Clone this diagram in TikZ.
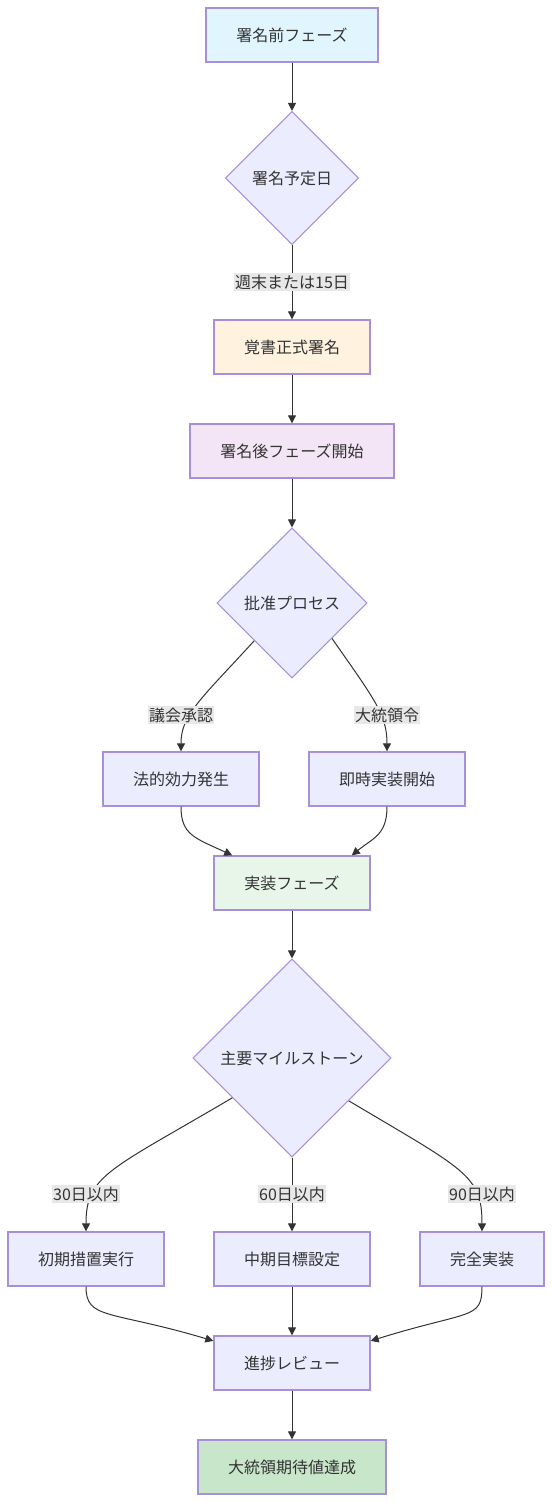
\documentclass[tikz,border=0pt]{standalone}
\usepackage{fontspec}
\setmainfont{Noto Sans CJK JP}
\usetikzlibrary{shapes.geometric,arrows.meta,calc}
\definecolor{nstroke}{HTML}{A78FDA}
\definecolor{nfill}{HTML}{ECECFF}
\definecolor{edgec}{HTML}{333333}
\definecolor{lblbg}{HTML}{E8E8E8}
\definecolor{cblue}{HTML}{E1F5FE}
\definecolor{corange}{HTML}{FFF3E0}
\definecolor{cpurple}{HTML}{F3E5F5}
\definecolor{cgreen}{HTML}{E8F5E9}
\definecolor{cgreenD}{HTML}{C8E6C9}
\definecolor{txt}{HTML}{333333}
\tikzset{
  box/.style={draw=nstroke, line width=1pt, fill=nfill, minimum height=40.5pt, inner sep=0pt, font=\fontsize{12}{14}\selectfont, text=txt},
  dia/.style={diamond, aspect=1, draw=nstroke, line width=0.8pt, fill=nfill, inner sep=0pt, font=\fontsize{12}{14}\selectfont, text=txt},
  lbl/.style={fill=lblbg, inner sep=1pt, font=\fontsize{12}{14}\selectfont, text=txt},
  edge/.style={draw=edgec, line width=0.75pt, -{Triangle[length=6pt,width=6pt]}},
}
\begin{document}
\begin{tikzpicture}[x=0.75pt,y=-0.75pt]
\useasboundingbox (0,0) rectangle (552,1502);
% nodes
\node[box, fill=cblue, minimum width=129pt] (A) at (292,35) {署名前フェーズ};
\node[dia, minimum width=99.75pt, minimum height=99.75pt] (B) at (292,178) {署名予定日};
\node[box, fill=corange, minimum width=117pt] (C) at (292,347) {覚書正式署名};
\node[box, fill=cpurple, minimum width=153pt] (D) at (292,451) {署名後フェーズ開始};
\node[dia, minimum width=112.5pt, minimum height=112.5pt] (E) at (292,603) {批准プロセス};
\node[box, minimum width=117pt] (F) at (181,779) {法的効力発生};
\node[box, minimum width=117pt] (G) at (387,779) {即時実装開始};
\node[box, fill=cgreen, minimum width=117pt] (H) at (292,883) {実装フェーズ};
\node[dia, minimum width=148.5pt, minimum height=148.5pt] (I) at (292,1058) {主要マイルストーン};
\node[box, minimum width=117pt] (J) at (86,1259) {初期措置実行};
\node[box, minimum width=117pt] (K) at (292,1259) {中期目標設定};
\node[box, minimum width=93pt] (L) at (482,1259) {完全実装};
\node[box, minimum width=117pt] (M) at (292,1363) {進捗レビュー};
\node[box, fill=cgreenD, minimum width=141pt] (N) at (292,1467) {大統領期待値達成};
% edges
\draw[edge] (A.south) -- (B.north);
\draw[edge] (B.south) -- (C.north);
\draw[edge] (C.south) -- (D.north);
\draw[edge] (D.south) -- (E.north);
\coordinate (E1) at ($(E.west)!0.5!(E.south)$);
\coordinate (E2) at ($(E.east)!0.47!(E.south)$);
\draw[edge] (E1) .. controls (200,700) and (181,715) .. (F.north);
\draw[edge] (E2) .. controls (375,700) and (387,715) .. (G.north);
\draw[edge] (F.south) .. controls (181,835) and (195,838) .. ($(H.north west)!0.12!(H.north east)$);
\draw[edge] (G.south) .. controls (387,835) and (373,838) .. ($(H.north east)!0.12!(H.north west)$);
\draw[edge] (H.south) -- (I.north);
\coordinate (I1) at ($(I.west)!0.4!(I.south)$);
\coordinate (I2) at ($(I.east)!0.43!(I.south)$);
\draw[edge] (I1) .. controls (110,1170) and (86,1175) .. (J.north);
\draw[edge] (I.south) -- (K.north);
\draw[edge] (I2) .. controls (465,1170) and (482,1175) .. (L.north);
\draw[edge] (J.south) .. controls (86,1320) and (110,1310) .. ($(M.north west)!0.1!(M.south west)$);
\draw[edge] (K.south) -- (M.north);
\draw[edge] (L.south) .. controls (482,1320) and (470,1310) .. ($(M.north east)!0.1!(M.south east)$);
\draw[edge] (M.south) -- (N.north);
% labels
\node[lbl] (lB) at (292,282) {週末または15日};
\node[lbl] (lF) at (181,715) {議会承認};
\node[lbl] (lG) at (387,715) {大統領令};
\node[lbl] (lJ) at (86,1194) {30日以内};
\node[lbl] (lK) at (292,1194) {60日以内};
\node[lbl] (lL) at (482,1194) {90日以内};
\end{tikzpicture}
\end{document}
